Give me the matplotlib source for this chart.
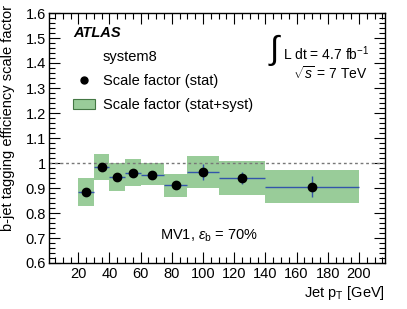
import numpy as np
import matplotlib
matplotlib.use("Agg")
import matplotlib.pyplot as plt
from matplotlib.lines import Line2D
from matplotlib.patches import Patch
from matplotlib.ticker import MultipleLocator

plt.rcParams['font.family'] = ['Liberation Sans', 'DejaVu Sans']
plt.rcParams['mathtext.fontset'] = 'custom'
plt.rcParams['mathtext.rm'] = 'Liberation Sans'
plt.rcParams['mathtext.it'] = 'Liberation Sans:italic'

# pT bins [GeV]
bin_lo = [20, 30, 40, 50, 60, 75, 90, 110, 140]
bin_hi = [30, 40, 50, 60, 75, 90, 110, 140, 200]

# scale factor with stat error
sf = [0.884, 0.984, 0.945, 0.962, 0.954, 0.912, 0.964, 0.940, 0.906]
stat = [0.010, 0.012, 0.012, 0.015, 0.010, 0.015, 0.033, 0.025, 0.040]

# stat+syst band edges
band_lo = [0.827, 0.931, 0.889, 0.909, 0.913, 0.863, 0.900, 0.873, 0.839]
band_hi = [0.939, 1.037, 1.000, 1.015, 1.001, 0.958, 1.028, 1.008, 0.971]

green = '#99cc99'
blue = '#3355aa'

lo = np.array(bin_lo, float)
hi = np.array(bin_hi, float)
centers = (lo + hi) / 2
half = (hi - lo) / 2

fig = plt.figure(figsize=(4.07, 3.09), dpi=100)
ax = fig.add_axes([49 / 407, 1 - 263 / 309, 336 / 407, 250 / 309])

# syst band
ax.bar(lo, np.array(band_hi) - np.array(band_lo), width=hi - lo,
       bottom=band_lo, align='edge', color=green, edgecolor='none', zorder=1)

# reference line at 1
ax.axhline(1.0, color='#777777', lw=1, ls=(0, (2, 2)), zorder=2)

# points with stat errors
ax.errorbar(centers, sf, xerr=half, yerr=stat, fmt='none', ecolor=blue,
            elinewidth=1, capsize=0, zorder=3)
ax.plot(centers, sf, 'o', color='black', ms=6, zorder=4)

ax.set_xlim(1.2, 216.7)
ax.set_ylim(0.6, 1.6)
ax.xaxis.set_minor_locator(MultipleLocator(5))
ax.yaxis.set_minor_locator(MultipleLocator(0.02))
ax.set_xticks(np.arange(20, 201, 20))
ax.set_yticks(np.arange(0.6, 1.61, 0.1))
ax.set_yticklabels(['0.6', '0.7', '0.8', '0.9', '1', '1.1', '1.2', '1.3', '1.4', '1.5', '1.6'])
ax.tick_params(which='both', direction='in', top=True, right=True, labelsize=10.5)
ax.tick_params(which='major', length=8, width=0.8)
ax.tick_params(which='minor', length=4, width=0.8)
ax.tick_params(axis='x', pad=3)
ax.tick_params(axis='y', pad=2)
for s in ax.spines.values():
    s.set_linewidth(1)

ax.set_xlabel(r'Jet p$_\mathrm{T}$ [GeV]', fontsize=10.5, loc='right')
ax.set_ylabel('b-jet tagging efficiency scale factor', fontsize=10.5, loc='top')
ax.yaxis.set_label_coords(-0.1, 1.033)
ax.xaxis.set_label_coords(1.0, -0.085)

ax.text(0.071, 0.92, 'ATLAS', transform=ax.transAxes, fontsize=10.5,
        fontweight='bold', fontstyle='italic', va='center')

handles = [Line2D([], [], ls='none'),
           Line2D([], [], ls='none', marker='o', color='black', ms=5),
           Patch(facecolor=green, edgecolor='#447744', lw=0.8)]
labels = ['system8', 'Scale factor (stat)', 'Scale factor (stat+syst)']
ax.legend(handles, labels, loc='upper left', bbox_to_anchor=(0.071, 0.85),
          frameon=False, fontsize=10.5, handlelength=1.5, handletextpad=0.55,
          labelspacing=0.68, borderaxespad=0, borderpad=0)

ax.text(0.652, 0.85, r'$\int$', transform=ax.transAxes, fontsize=24, va='center')
ax.text(0.697, 0.838, r'L dt = 4.7 fb$^{-1}$', transform=ax.transAxes,
        fontsize=10, va='center')
ax.text(0.725, 0.758, r'$\sqrt{s}$ = 7 TeV', transform=ax.transAxes,
        fontsize=10, va='center')

ax.text(0.476, 0.108, r'MV1, $\varepsilon_\mathrm{b}$ = 70%', transform=ax.transAxes,
        fontsize=10.5, ha='center', va='center')

fig.savefig('out.png', dpi=100)
